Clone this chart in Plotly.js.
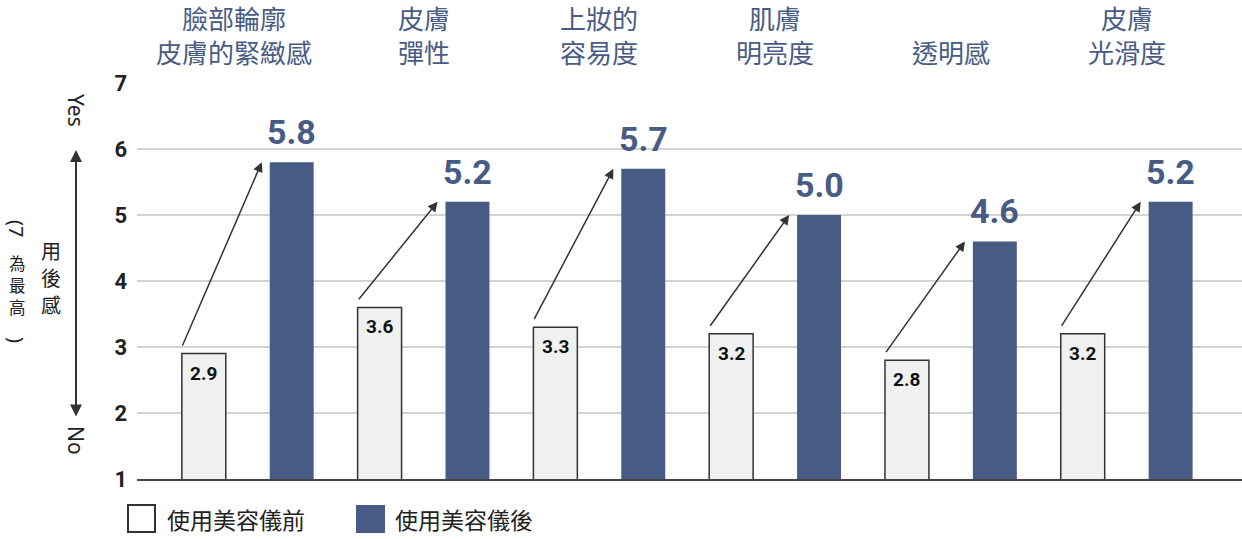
<!DOCTYPE html>
<html>
<head>
<meta charset="utf-8">
<script src="https://cdn.plot.ly/plotly-3.0.1.min.js"></script>
<style>
  html, body { margin: 0; padding: 0; background: #ffffff; }
  #chart { width: 1242px; height: 539px; }
</style>
</head>
<body>
<div id="chart"></div>
<script>
// ---- data ----
const categories = ['臉部輪廓<br>皮膚的緊緻感', '皮膚<br>彈性', '上妝的<br>容易度', '肌膚<br>明亮度', '透明感', '皮膚<br>光滑度'];
const beforeValues = [2.9, 3.6, 3.3, 3.2, 2.8, 3.2];
const afterValues = [5.8, 5.2, 5.7, 5.0, 4.6, 5.2];
const seriesNames = ['使用美容儀前', '使用美容儀後'];
const yTicks = [1, 2, 3, 4, 5, 6, 7];
const yTitleMain = ['用', '後', '感'];
const yTitleSub = ['為', '最', '高'];
const yTitleSubRotStart = '(7';
const yTitleSubRotEnd = ')';
const yesLabel = 'Yes';
const noLabel = 'No';

// ---- layout helpers ----
const W = 1242, H = 539;
const L = 137, R = 0, T = 83, B = 60;
const plotW = W - L - R, plotH = H - T - B;
const px2x = px => (px - L) / plotW;
const py2y = py => (H - B - py) / plotH;

const BLUE = '#485b84';
const idx = categories.map((_, i) => i);
const CJK = '"Noto Sans CJK TC", "Noto Sans CJK SC", sans-serif';
const NUM = 'Roboto, "DejaVu Sans", sans-serif';
const LAT = '"Noto Sans", "DejaVu Sans", sans-serif';

const traces = [
  {
    type: 'bar', name: seriesNames[0], x: idx, y: beforeValues,
    width: 0.25, offset: -0.375,
    marker: { color: '#f0f0f0', line: { color: '#333333', width: 1.5 } },
    hoverinfo: 'skip', showlegend: false
  },
  {
    type: 'bar', name: seriesNames[1], x: idx, y: afterValues,
    width: 0.25, offset: 0.125,
    marker: { color: BLUE, line: { width: 0 } },
    hoverinfo: 'skip', showlegend: false
  }
];

const annotations = [];
// category labels at top
categories.forEach((c, i) => {
  annotations.push({
    x: i, xref: 'x', y: py2y(72), yref: 'paper',
    xshift: i === 0 ? -14 : 0,
    text: c, showarrow: false, xanchor: 'center', yanchor: 'bottom',
    font: { family: CJK, size: 26, color: BLUE }
  });
});
// before labels (inside top of white bar)
beforeValues.forEach((v, i) => {
  annotations.push({
    x: i - 0.25, y: v, xref: 'x', yref: 'y', xanchor: 'center', yanchor: 'top', yshift: -6,
    text: v.toFixed(1), showarrow: false,
    font: { family: NUM, size: 19, color: '#111111', weight: 'bold' }
  });
});
// after labels (above blue bar)
afterValues.forEach((v, i) => {
  annotations.push({
    x: i + 0.25, y: v, xref: 'x', yref: 'y', xanchor: 'center', yanchor: 'bottom', yshift: 8,
    text: v.toFixed(1), showarrow: false,
    font: { family: NUM, size: 34, color: BLUE, weight: 'bold' }
  });
});
// arrows from before to after
beforeValues.forEach((v, i) => {
  annotations.push({
    x: i + 0.125 - 0.045, y: afterValues[i], xref: 'x', yref: 'y',
    ax: i - 0.375, ay: v + 0.1, axref: 'x', ayref: 'y',
    text: '', showarrow: true, arrowhead: 2, arrowsize: 1.3, arrowwidth: 1.5,
    arrowcolor: '#333333', standoff: 0
  });
});
// y-axis decorations: Yes / No and double arrow
annotations.push({
  x: px2x(76), y: py2y(110), xref: 'paper', yref: 'paper', xanchor: 'center', yanchor: 'middle',
  text: yesLabel, textangle: 90, showarrow: false, font: { family: LAT, size: 21, color: '#222' }
});
annotations.push({
  x: px2x(76), y: py2y(440), xref: 'paper', yref: 'paper', xanchor: 'center', yanchor: 'middle',
  text: noLabel, textangle: 90, showarrow: false, font: { family: LAT, size: 21, color: '#222' }
});
annotations.push({
  x: px2x(76), y: py2y(150), xref: 'paper', yref: 'paper',
  ax: 0, ay: 268, axref: 'pixel', ayref: 'pixel',
  text: '', showarrow: true, arrowside: 'end+start', arrowhead: 2, startarrowhead: 2,
  arrowsize: 1.2, startarrowsize: 1.2, arrowwidth: 2, arrowcolor: '#333', standoff: 0, startstandoff: 0
});
// vertical y title: one annotation per character (upright CJK, rotated latin)
yTitleMain.forEach((ch, k) => {
  annotations.push({
    x: px2x(51), y: py2y(251 + k * 26.5), xref: 'paper', yref: 'paper',
    xanchor: 'center', yanchor: 'middle', text: ch, showarrow: false, borderpad: 0,
    font: { family: CJK, size: 20, color: '#222' }
  });
});
annotations.push({
  x: px2x(17), y: py2y(228), xref: 'paper', yref: 'paper', xanchor: 'center', yanchor: 'middle',
  text: yTitleSubRotStart, textangle: 90, showarrow: false, borderpad: 0,
  font: { family: LAT, size: 20, color: '#222' }
});
yTitleSub.forEach((ch, k) => {
  annotations.push({
    x: px2x(17), y: py2y(263 + k * 22), xref: 'paper', yref: 'paper',
    xanchor: 'center', yanchor: 'middle', text: ch, showarrow: false, borderpad: 0,
    font: { family: CJK, size: 16.5, color: '#222' }
  });
});
annotations.push({
  x: px2x(17), y: py2y(340), xref: 'paper', yref: 'paper', xanchor: 'center', yanchor: 'middle',
  text: yTitleSubRotEnd, textangle: 90, showarrow: false, borderpad: 0,
  font: { family: LAT, size: 20, color: '#222' }
});
// legend texts
annotations.push({
  x: px2x(165), y: py2y(519), xref: 'paper', yref: 'paper', xanchor: 'left', yanchor: 'middle',
  text: seriesNames[0], showarrow: false, font: { family: CJK, size: 23, color: '#222' }
});
annotations.push({
  x: px2x(393), y: py2y(519), xref: 'paper', yref: 'paper', xanchor: 'left', yanchor: 'middle',
  text: seriesNames[1], showarrow: false, font: { family: CJK, size: 23, color: '#222' }
});

const shapes = [
  { type: 'rect', xref: 'paper', yref: 'paper',
    x0: px2x(128), x1: px2x(155), y0: py2y(532), y1: py2y(505),
    fillcolor: '#ffffff', line: { color: '#333', width: 2 } },
  { type: 'rect', xref: 'paper', yref: 'paper',
    x0: px2x(356), x1: px2x(385), y0: py2y(533), y1: py2y(505),
    fillcolor: BLUE, line: { width: 0 } }
];

const layout = {
  width: W, height: H,
  margin: { l: L, r: R, t: T, b: B, pad: 0 },
  paper_bgcolor: '#ffffff', plot_bgcolor: '#ffffff',
  barmode: 'overlay',
  showlegend: false,
  xaxis: {
    range: [-0.63, 5.656], showgrid: false, zeroline: false,
    showticklabels: false, ticks: '',
    showline: true, linecolor: '#444444', linewidth: 2
  },
  yaxis: {
    range: [1, 7], tickvals: yTicks, ticktext: yTicks.map(String),
    showgrid: true, gridcolor: '#d3d3d3', gridwidth: 1.5, zeroline: false,
    showline: false, ticks: '', ticklabelstandoff: 9,
    tickfont: { family: NUM, size: 22, color: '#222', weight: 'bold' }
  },
  annotations: annotations,
  shapes: shapes
};

Plotly.newPlot('chart', traces, layout, { displayModeBar: false, staticPlot: true });
</script>
</body>
</html>
